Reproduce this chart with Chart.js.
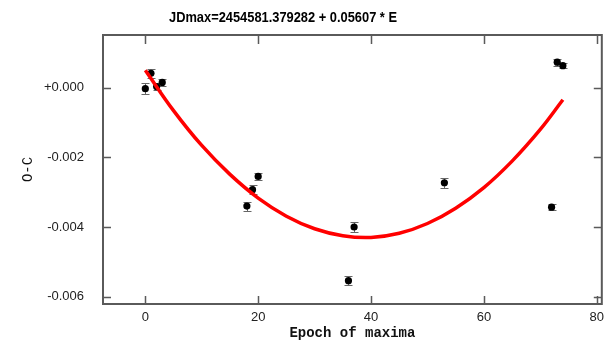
<!DOCTYPE html>
<html>
<head>
<meta charset="utf-8">
<script src="https://cdn.jsdelivr.net/npm/chart.js@4.4.1/dist/chart.umd.min.js"></script>
<style>
  html, body { margin: 0; padding: 0; background: #ffffff; }
  #wrap { width: 610px; height: 342px; }
</style>
</head>
<body>
<div id="wrap"><canvas id="oc-chart"></canvas></div>
<script>
// observed maxima: epoch, O-C (days) and 1-sigma error
const epochs = [0, 1, 2, 3, 18, 19, 20, 36, 37, 53, 72, 73, 74];
const ocValues = [-0.00003, 0.00041, 0.00003, 0.00015, -0.0034, -0.00293, -0.00255, -0.00554, -0.0040, -0.00273, -0.00343, 0.00073, 0.00063];
const ocErrors = [0.00016, 0.00012, 0.0001, 0.0001, 0.00013, 0.00013, 0.0001, 0.00013, 0.00015, 0.00015, 0.00008, 0.0001, 0.00008];

// parabolic fit through the O-C points
const fitEpochs = [0, 5, 10, 15, 20, 25, 30, 35, 40, 45, 50, 55, 60, 65, 70, 74];
const fitValues = [0.0005, -0.00066, -0.00166, -0.00249, -0.00317, -0.00369, -0.00405, -0.00425, -0.0043, -0.00418, -0.0039, -0.00346, -0.00287, -0.00211, -0.0012, -0.00035];

const xTicks = [0, 20, 40, 60, 80];
const yTicks = [0, -0.002, -0.004, -0.006];

const titleText = 'JDmax=2454581.379282 + 0.05607 * E';
const tickFont = { family: "'Liberation Sans', Arial, sans-serif", size: 13 };
const monoFont = "'Liberation Mono', 'DejaVu Sans Mono', monospace";

const points = epochs.map((e, i) => ({ x: e, y: ocValues[i], err: ocErrors[i] }));
const fitLine = fitEpochs.map((e, i) => ({ x: e, y: fitValues[i] }));

// frame with inward tick marks on all four sides
const framePlugin = {
    id: 'frame',
    afterDraw(chart) {
        const { ctx, chartArea: a, scales } = chart;
        ctx.save();
        ctx.strokeStyle = '#5a5a5a';
        ctx.lineWidth = 2;
        ctx.strokeRect(a.left, a.top, a.right - a.left, a.bottom - a.top);
        ctx.lineWidth = 1.5;
        ctx.beginPath();
        xTicks.forEach(v => {
            const px = Math.round(scales.x.getPixelForValue(v)) + 0.5;
            ctx.moveTo(px, a.bottom); ctx.lineTo(px, a.bottom - 8);
            ctx.moveTo(px, a.top); ctx.lineTo(px, a.top + 9);
        });
        yTicks.forEach(v => {
            const py = Math.round(scales.y.getPixelForValue(v)) + 0.5;
            ctx.moveTo(a.left, py); ctx.lineTo(a.left + 8, py);
            ctx.moveTo(a.right, py); ctx.lineTo(a.right - 8, py);
        });
        ctx.stroke();
        ctx.restore();
    }
};

// vertical error bars with small caps under each point
const errorBarPlugin = {
    id: 'errorBars',
    beforeDatasetsDraw(chart) {
        const { ctx, scales } = chart;
        ctx.save();
        ctx.strokeStyle = '#666666';
        ctx.lineWidth = 1;
        ctx.beginPath();
        points.forEach(p => {
            const px = Math.round(scales.x.getPixelForValue(p.x)) + 0.5;
            const top = Math.round(scales.y.getPixelForValue(p.y + p.err)) + 0.5;
            const bot = Math.round(scales.y.getPixelForValue(p.y - p.err)) + 0.5;
            ctx.moveTo(px, top); ctx.lineTo(px, bot);
            ctx.moveTo(px - 4, top); ctx.lineTo(px + 4, top);
            ctx.moveTo(px - 4, bot); ctx.lineTo(px + 4, bot);
        });
        ctx.stroke();
        ctx.restore();
    }
};

const titlePlugin = {
    id: 'plotTitle',
    afterDraw(chart) {
        const ctx = chart.ctx;
        ctx.save();
        ctx.font = "bold 14px 'Liberation Sans', Arial, sans-serif";
        ctx.fillStyle = '#000000';
        ctx.textAlign = 'center';
        ctx.textBaseline = 'middle';
        ctx.fillText(titleText, 283, 18, 228);
        ctx.restore();
    }
};

new Chart(document.getElementById('oc-chart'), {
    type: 'scatter',
    data: {
        datasets: [{
            type: 'line',
            data: fitLine,
            borderColor: '#ff0000',
            borderWidth: 3.5,
            pointRadius: 0,
            tension: 0.4,
            fill: false
        }, {
            data: points,
            backgroundColor: '#000000',
            borderColor: '#000000',
            pointRadius: 3.6,
            pointBorderWidth: 0
        }]
    },
    options: {
        responsive: true,
        maintainAspectRatio: false,
        animation: false,
        layout: { padding: { top: 35, right: 3, left: 0, bottom: 0 } },
        plugins: {
            legend: { display: false },
            tooltip: { enabled: false }
        },
        scales: {
            x: {
                type: 'linear',
                min: -7.5,
                max: 80.9,
                afterBuildTicks: s => { s.ticks = xTicks.map(v => ({ value: v })); },
                afterFit: s => { s.height = 38; },
                grid: { display: false, drawTicks: false },
                border: { display: false },
                ticks: { color: '#222222', font: tickFont, padding: 6, maxRotation: 0 },
                title: {
                    display: true,
                    text: 'Epoch of maxima',
                    color: '#111111',
                    font: { family: monoFont, size: 14, weight: 'bold' },
                    padding: { top: 0, bottom: 0 }
                }
            },
            y: {
                type: 'linear',
                min: -0.00621,
                max: 0.00151,
                afterBuildTicks: s => { s.ticks = yTicks.map(v => ({ value: v })); },
                afterFit: s => { s.width = 103; },
                grid: { display: false, drawTicks: false },
                border: { display: false },
                ticks: {
                    color: '#222222',
                    font: tickFont,
                    padding: 19,
                    callback: v => (v >= 0 ? '+' : '') + v.toFixed(3)
                },
                title: {
                    display: true,
                    text: 'O-C',
                    color: '#111111',
                    font: { family: monoFont, size: 14 },
                    padding: { top: 20, bottom: 0 }
                }
            }
        }
    },
    plugins: [errorBarPlugin, framePlugin, titlePlugin]
});
</script>
</body>
</html>
